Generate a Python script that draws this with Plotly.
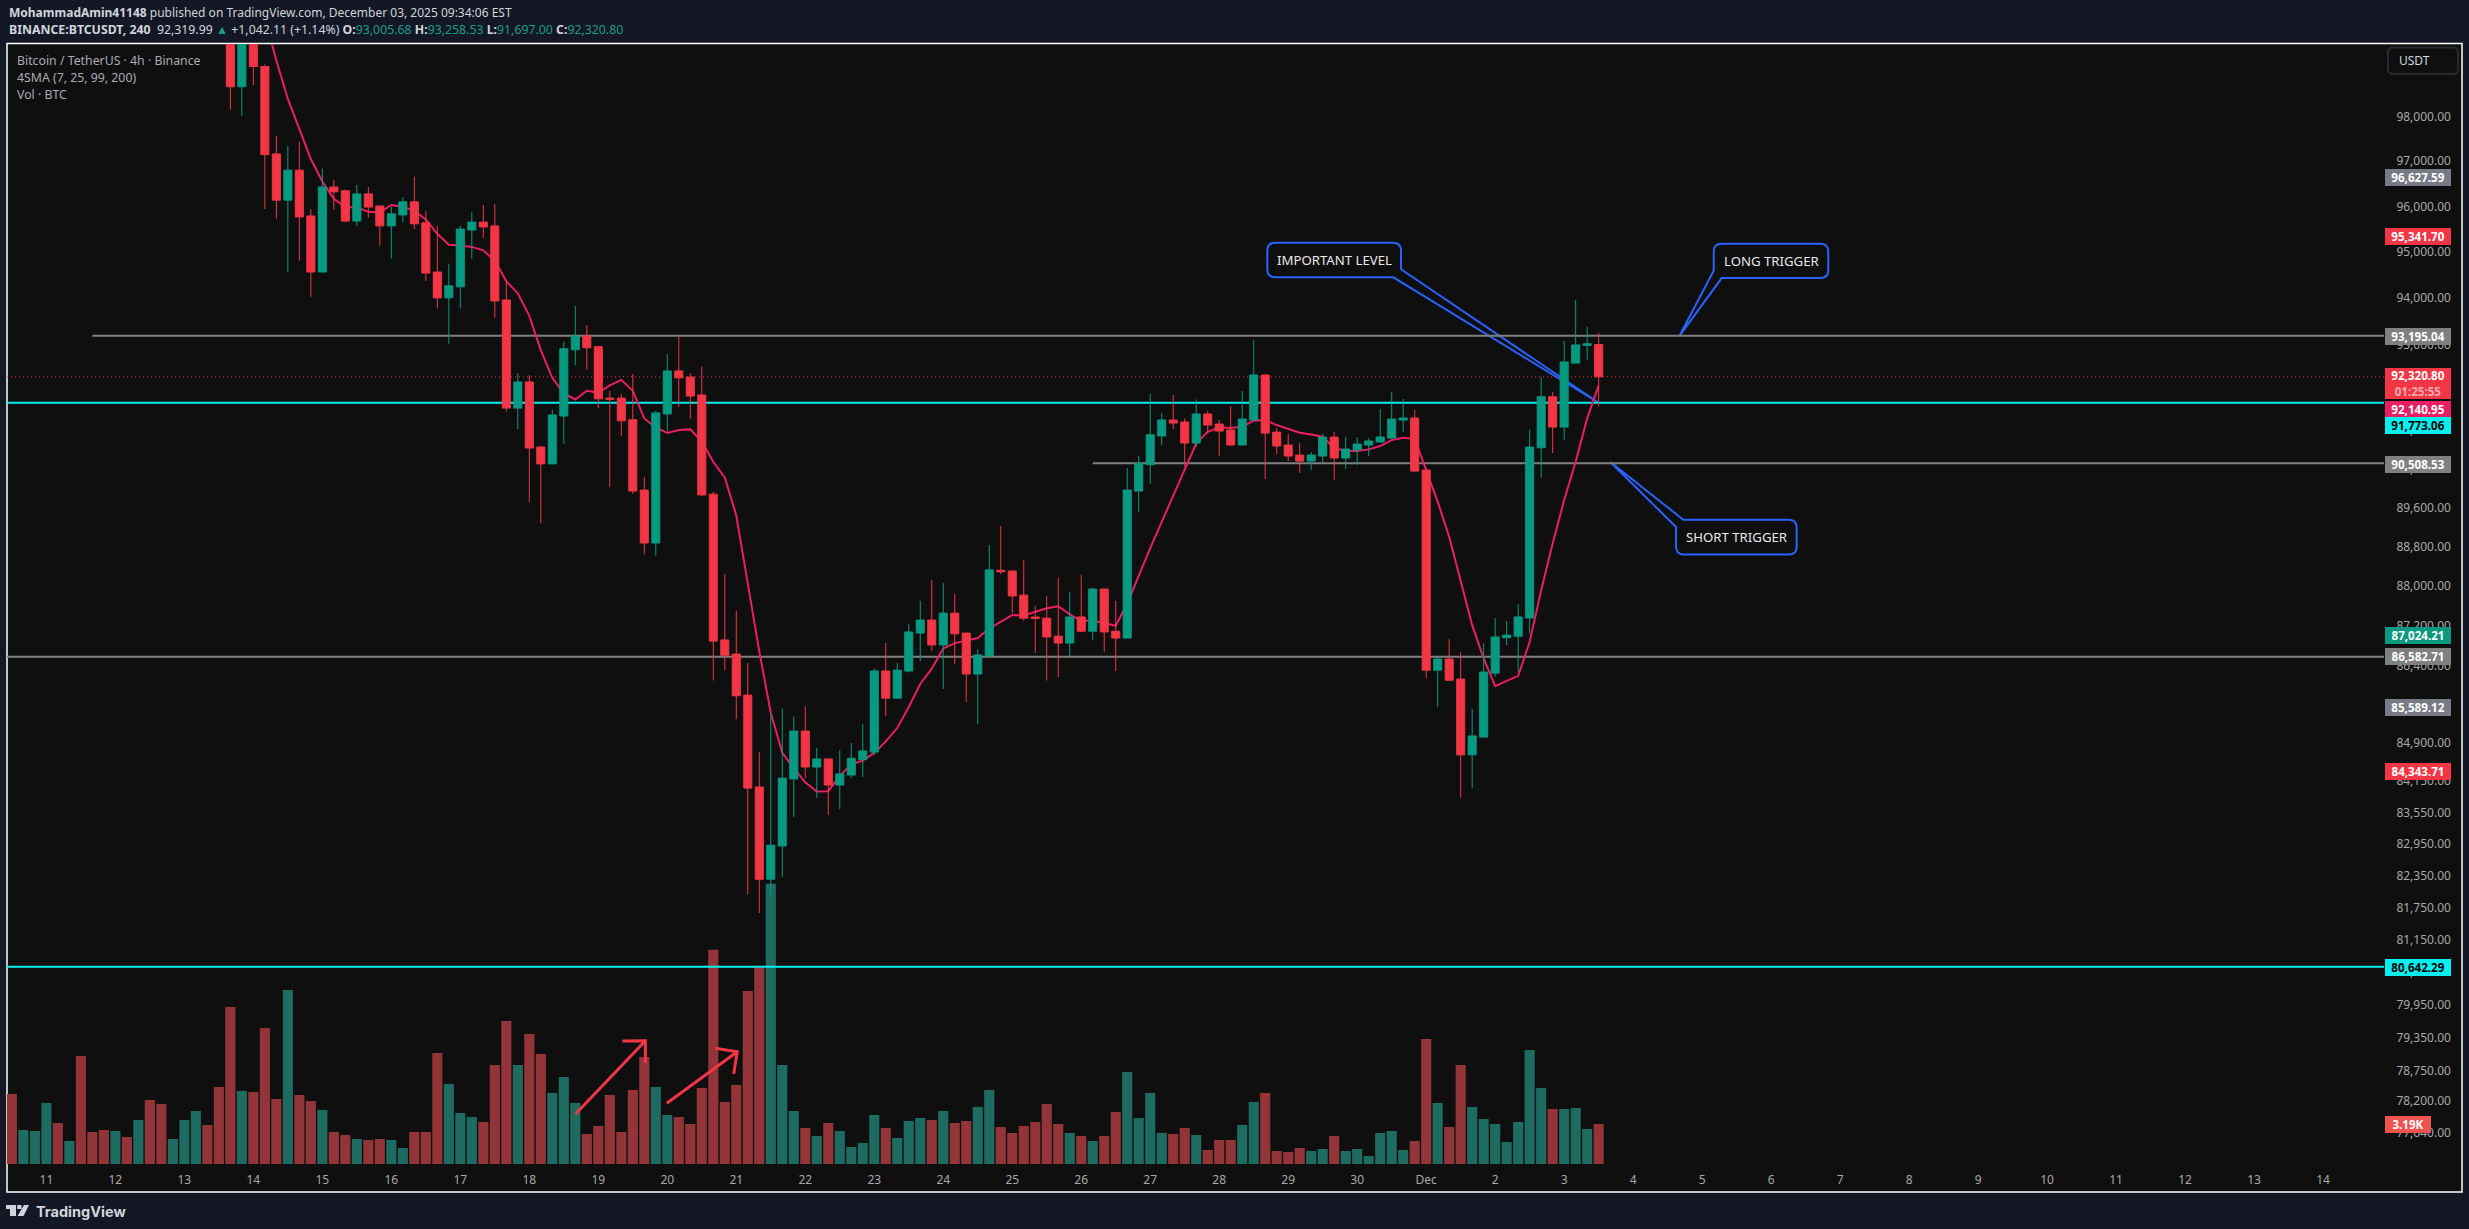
import math
import pandas as pd
import plotly.graph_objects as go

W, H = 2469, 1229

# 4h bars, Nov 10 12:00 -> Dec 3 12:00
bar_times = pd.date_range("2025-11-10 12:00", periods=139, freq="4h")

volume = [5586, 2713, 2633, 4868, 3272, 1835, 8618, 2554, 2713, 2633, 2155, 3511, 5107, 4788, 1995, 3511,
          4229, 3112, 6145, 12529, 5825, 5746, 10853, 5187, 13885, 5506, 5027, 4309, 2554, 2314, 1995, 1915,
          1995, 1915, 1277, 2554, 2554, 8858, 6384, 4070, 3751, 3352, 7900, 11411, 7900, 10374, 8778, 5666,
          6943, 4868, 2394, 3032, 5506, 2554, 5905, 8539, 6145, 3910, 3751, 3192, 6065, 17077, 4948, 6304,
          13805, 15694, 22344, 7900, 4229, 2873, 2234, 3272, 2633, 1357, 1676, 3910, 2873, 2075, 3431, 3671,
          3511, 4229, 3272, 3431, 4549, 5905, 2953, 2474, 3032, 3352, 4788, 3192, 2474, 2234, 1835, 2234,
          4150, 7342, 3671, 5666, 2474, 2394, 2873, 2314, 1117, 1915, 1915, 3112, 4948, 5666, 1037, 958,
          1277, 1037, 1197, 2234, 1037, 1197, 638, 2474, 2633, 1117, 1835, 9975, 4868, 2953, 7900, 4549,
          3591, 3192, 1756, 3352, 9097, 6065, 4389, 4389, 4469, 2793, 3190]
vol_dir = ("RGGGRGRRRG" "RGRRGGGRRR" "GRRRGRRGRR" "GRRGGRRRGG" "GRRRGRRGGG" "RRRRRRGGRR" "RRRRRRGGGR"
           "GRGGGGRGGG" "RGRRGGRRRR" "RRGRGRRGGG" "GRRGRRRGGR" "RRRGGRGGGG" "GGRRGRRGGG" "GGGGRGGGR")

# candles only from the first one that enters the pane (Nov 13 16:00)
candle_times = bar_times[19:]
opens = [100400, 98668, 100300, 99128, 97161, 96137, 96800, 95789, 94566, 96427, 96343, 95676, 96274, 96008,
         95571, 95812, 96099, 95639, 94566, 94007, 94246, 95480, 95654, 95571, 93962, 91661, 92213, 90848,
         90497, 91496, 92894, 93188, 92960, 91872, 91872, 91417, 89955, 88870, 91539, 92446, 92315, 91937,
         89871, 86917, 86636, 85826, 84037, 82278, 82908, 84192, 85121, 84422, 84578, 84074, 84267, 84570,
         84711, 86301, 85765, 86301, 87054, 87315, 86817, 87453, 87054, 86241, 86598, 88316, 88301, 87814,
         87376, 87353, 86993, 86855, 87376, 87092, 87938, 87092, 86955, 89934, 90481, 91078, 91411, 91369,
         90930, 91537, 91327, 91201, 90889, 91411, 92359, 91159, 90889, 90680, 90555, 90659, 91055, 90618,
         90784, 90889, 90951, 91034, 91411, 91453, 90369, 86316, 86537, 86141, 84658, 85003, 86258, 86962,
         86992, 87355, 90831, 91900, 91263, 92612, 92990, 93005.68]
highs = [100700, 100800, 100500, 99175, 97560, 97337, 97429, 95940, 96839, 96587, 96366, 96472, 96427, 96008,
         95985, 96205, 96648, 95895, 95571, 94745, 95571, 95880, 96031, 96053, 94364, 92402, 92358, 90860,
         91625, 93063, 93836, 93423, 92982, 92025, 91959, 92380, 90224, 91604, 92806, 93180, 92402, 92541,
         89918, 88239, 87499, 86461, 84711, 85479, 85562, 85404, 85606, 84793, 84578, 84748, 84890, 85254,
         86347, 86855, 86461, 87238, 87699, 88124, 88062, 87838, 87054, 86734, 88829, 89219, 88301, 88525,
         87599, 87799, 88162, 87876, 88224, 87961, 87938, 87699, 90408, 90663, 91962, 91558, 91936, 91446,
         91845, 91600, 91411, 91705, 92020, 93104, 92380, 91243, 91117, 90930, 90742, 91117, 91159, 91055,
         91055, 91034, 91642, 91999, 91852, 91621, 90410, 86574, 86933, 86676, 85551, 86852, 87355, 87295,
         87636, 91205, 92314, 92002, 93084, 93965, 93384, 93258.53]
lows = [98147, 98008, 98707, 95940, 95729, 94566, 94813, 94029, 94566, 95925, 95654, 95571, 95752, 95135,
        94858, 95654, 95503, 94372, 93777, 93019, 93777, 94850, 95307, 93578, 91589, 91222, 89708, 89271,
        90497, 90913, 92571, 92468, 91661, 90020, 91078, 89878, 88640, 88610, 91179, 91683, 91431, 89834,
        86112, 86317, 85352, 81997, 81643, 81953, 82321, 83456, 84207, 83823, 83501, 83610, 84215, 84230,
        84659, 85412, 85765, 86271, 86498, 86703, 85946, 86438, 85690, 85254, 86598, 88239, 87453, 87300,
        86661, 86112, 86180, 86567, 87069, 86917, 86680, 86301, 86955, 89510, 90083, 90886, 91222, 90438,
        90853, 91131, 90659, 90868, 90889, 91411, 90183, 90701, 90555, 90307, 90369, 90527, 90162, 90390,
        90473, 90659, 90951, 91014, 91159, 90328, 86159, 85587, 86119, 83828, 84014, 85003, 86185, 86816,
        86280, 87051, 90209, 90723, 90994, 92612, 92683, 91697.00]
closes = [98668, 100300, 99128, 97145, 96137, 96800, 95767, 94566, 96427, 96320, 95676, 96274, 95985, 95571,
          95835, 96099, 95616, 94543, 94007, 94268, 95503, 95654, 95548, 93940, 91661, 92213, 90827, 90497,
          91517, 92916, 93188, 92938, 91857, 91850, 91395, 89934, 88870, 91561, 92446, 92300, 91915, 89855,
          86894, 86613, 85811, 84015, 82278, 82923, 84207, 85121, 84422, 84578, 84074, 84289, 84592, 84733,
          86301, 85765, 86317, 87077, 87315, 86817, 87453, 87039, 86241, 86620, 88324, 88286, 87799, 87353,
          87346, 86978, 86855, 87376, 87092, 87938, 87077, 86955, 89957, 90504, 91102, 91414, 91348, 90930,
          91537, 91306, 91180, 90889, 91432, 92359, 91138, 90868, 90659, 90555, 90680, 91055, 90618, 90805,
          90909, 90972, 91055, 91432, 91453, 90348, 86317, 86537, 86119, 84658, 85025, 86280, 86977, 87014,
          87377, 90846, 91900, 91263, 92636, 92998, 93022, 92320.80]

# SMA 7, from the bar where it comes into view
sma_times = bar_times[22:]
sma = [100235, 99269, 98393, 97698, 97046, 96549, 96167, 95978, 95978, 95880, 95865, 96031, 95993, 95902, 95714,
       95397, 95157, 95142, 95112, 95037, 94813, 94364, 94104, 93619, 92887, 92300, 91972, 91843, 92025, 91988,
       92140, 92257, 92025, 91445, 91251, 91143, 91201, 91215, 90963, 90540, 90218, 89431, 88069, 86689, 85479,
       84696, 84400, 84126, 83949, 83956, 84252, 84474, 84548, 84696, 84920, 85180, 85592, 86044, 86347, 86749,
       86855, 86901, 86955, 87146, 87284, 87414, 87407, 87476, 87552, 87591, 87430, 87300, 87300, 87254, 87200,
       87645, 88223, 88767, 89300, 89830, 90369, 90925, 91166, 91257, 91243, 91271, 91397, 91411, 91306, 91222,
       91145, 91110, 91062, 90820, 90771, 90764, 90798, 90868, 90992, 91041, 91014, 90369, 89716, 88998, 88118,
       87213, 86549, 86002, 86106, 86205, 86882, 87915, 88862, 89750, 90541, 91446, 92140.95]

price_ticks = [98000, 97000, 96000, 95000, 94000, 93000, 92000, 91200, 90400, 89600, 88800, 88000, 87200, 86400,
               84900, 84150, 83550, 82950, 82350, 81750, 81150, 80550, 79950, 79350, 78750, 78200, 77640]
price_tick_labels = [f"{p:,.2f}" for p in price_ticks]

day_ticks = pd.date_range("2025-11-11", "2025-12-14", freq="D")
day_labels = [str(d.day) if d.day != 1 else "Dec" for d in day_ticks]

# price, box colour, text colour, shift off the true level (px, price scale collisions)
price_boxes = [
    (96627.59, "#787B86", "#ffffff", 0),
    (95341.70, "#F23645", "#ffffff", 0),
    (93195.04, "#808080", "#ffffff", -1),
    (92140.95, "#E91E63", "#ffffff", -24),
    (91773.06, "#00F0F0", "#000000", -22.5),
    (90508.53, "#808080", "#ffffff", -1),
    (87024.21, "#089981", "#ffffff", -1),
    (86582.71, "#808080", "#ffffff", 0),
    (85589.12, "#787B86", "#ffffff", 0),
    (84343.71, "#F23645", "#ffffff", 0),
    (80642.29, "#00F0F0", "#000000", -1),
]

PAGE = "#131824"
PANE = "#0F0F0F"
UP = "#089981"
DOWN = "#F23645"
VOL_UP = "#1E6B61"
VOL_DOWN = "#933538"
BLUE = "#2962FF"
TXT_FONT = "Noto Sans"
X_END = "2025-12-14 21:12"
X_START = "2025-11-10 10:18"


def fx(x):
    return x / W


def fy(y):
    return 1 - y / H


def pth(points):
    return "M" + " L".join(f"{fx(x):.5f},{fy(y):.5f}" for x, y in points)


def callout(x0, y0, x1, y1, corner, tip, pa, pb, r=8):
    # rounded box, one corner is swapped for the pointer
    def q(cx, cy, ex, ey):
        return f" Q{fx(cx):.5f},{fy(cy):.5f} {fx(ex):.5f},{fy(ey):.5f}"

    def l(x, y):
        return f" L{fx(x):.5f},{fy(y):.5f}"

    ptr = l(*pa) + l(*tip) + l(*pb)
    s = f"M{fx(x0 + r if corner != 'tl' else pb[0]):.5f},{fy(y0):.5f}"
    s += l(x1 - r, y0) + q(x1, y0, x1, y0 + r)
    s += ptr if corner == "br" else l(x1, y1 - r) + q(x1, y1, x1 - r, y1)
    s += ptr if corner == "bl" else l(x0 + r, y1) + q(x0, y1, x0, y1 - r)
    s += ptr if corner == "tl" else l(x0, y0 + r) + q(x0, y0, x0 + r, y0)
    return dict(type="path", xref="paper", yref="paper", path=s, layer="below",
                line=dict(color=BLUE, width=2), fillcolor="rgba(0,0,0,0)")


fig = go.Figure()

fig.add_trace(go.Bar(x=bar_times, y=volume, yaxis="y",
                     marker=dict(color=[VOL_UP if d == "G" else VOL_DOWN for d in vol_dir], line_width=0)))

hlines = [("2025-11-11 16:00", 93195.04, "#808080"),
          ("2025-11-26 04:00", 90508.53, "#808080"),
          (X_START, 86582.71, "#808080"),
          (X_START, 91773.06, "#00F0F0"),
          (X_START, 80642.29, "#00F0F0")]
for start, level, col in hlines:
    fig.add_trace(go.Scatter(x=[start, X_END], y=[level, level], yaxis="y2", mode="lines",
                             line=dict(color=col, width=2)))
fig.add_trace(go.Scatter(x=[X_START, X_END], y=[92320.80, 92320.80], yaxis="y2", mode="lines",
                         line=dict(color=DOWN, width=1, dash="1px,3px")))
fig.add_trace(go.Scatter(x=sma_times, y=sma, yaxis="y2", mode="lines", line=dict(color="#E91E63", width=2)))

fig.add_trace(go.Candlestick(x=candle_times, open=opens, high=highs, low=lows, close=closes, yaxis="y3",
                             whiskerwidth=0,
                             increasing=dict(line=dict(color=UP, width=1), fillcolor=UP),
                             decreasing=dict(line=dict(color=DOWN, width=1), fillcolor=DOWN)))

pmin, pmax = math.log10(77079), math.log10(99640)
ydom = [fy(1164), fy(44)]
common = dict(domain=ydom, showgrid=False, zeroline=False, showline=False)

shapes = [
    dict(type="rect", xref="paper", yref="paper", x0=fx(7), x1=fx(2462), y0=fy(1192), y1=fy(43.5), layer="below",
         fillcolor=PANE, line=dict(color="#FFFFFF", width=1.5)),
    # USDT button
    dict(type="path", xref="paper", yref="paper", layer="above", fillcolor=PANE, line=dict(color="#2A2A2A", width=2),
         path=pth([(2391, 47.5), (2455, 47.5), (2458, 50.5), (2458, 71), (2455, 74), (2391, 74), (2388, 71),
                   (2388, 50.5)]) + " Z"),
    callout(1713.7, 243.7, 1828.3, 278.1, "bl", (1679.3, 336.2), (1721.7, 278.1), (1713.7, 270.7)),
    callout(1267.3, 242.7, 1401, 277.3, "br", (1599, 403), (1401, 269.3), (1393.3, 277.3)),
    callout(1676, 519.7, 1796.7, 554.5, "tl", (1610.3, 462), (1676, 527), (1683.3, 519.7)),
]
# hand drawn arrows in the volume pane
for stroke in ([(575.5, 1114), (645.4, 1040.7)], [(622.4, 1041), (645.4, 1040.7), (645.4, 1062.7)],
               [(666.8, 1103.3), (737.2, 1051.7)], [(715.3, 1048.3), (737.2, 1051.7), (733.7, 1074)]):
    shapes.append(dict(type="path", xref="paper", yref="paper", layer="above", path=pth(stroke),
                       line=dict(color=DOWN, width=3), fillcolor="rgba(0,0,0,0)"))
# logo
logo = [
    [(6, 1205), (16, 1205), (16, 1216), (10, 1216), (10, 1209), (6, 1209)],
    [(24, 1205), (29, 1205), (23.5, 1216), (17.5, 1216)],
    [(17.2, 1205), (21.5, 1205), (21.5, 1209), (17.2, 1209)],
]
for part in logo:
    shapes.append(dict(type="path", xref="paper", yref="paper", path=pth(part) + " Z", fillcolor="#D1D4DC",
                       line_width=0))


def text(x, y, s, size=13, color="#D1D4DC", anchor="left", font=TXT_FONT):
    return dict(xref="paper", yref="paper", x=fx(x), y=fy(y), text=s, showarrow=False, xanchor=anchor,
                yanchor="middle", align=anchor, font=dict(family=font, size=size, color=color))


G = "#1C9C8C"
annotations = [
    text(6.5, 12.5, "<b>MohammadAmin41148</b> published on TradingView.com, December 03, 2025 09:34:06 EST", size=12),
    text(6.5, 29.7, f"<b>BINANCE:BTCUSDT, 240</b>  92,319.99 <span style='color:{G}'>▲</span> +1,042.11 (+1.14%) "
                    f"<b>O:</b><span style='color:{G}'>93,005.68</span> <b>H:</b><span style='color:{G}'>93,258.53</span> "
                    f"<b>L:</b><span style='color:{G}'>91,697.00</span> <b>C:</b><span style='color:{G}'>92,320.80</span>",
         size=12.3),
    text(15, 60.7, "Bitcoin / TetherUS · 4h · Binance", size=12.3, color="#A8ABB4"),
    text(15, 77.7, "4SMA (7, 25, 99, 200)", size=12.3, color="#A8ABB4"),
    text(15, 94.7, "Vol · BTC", size=12.3, color="#A8ABB4"),
    text(2397, 61, "USDT", size=12, color="#D1D4DC"),
    text(1771, 260.5, "LONG TRIGGER", size=13.2, color="#E8E8E8", anchor="center"),
    text(1334, 259.5, "IMPORTANT LEVEL", size=13.2, color="#E8E8E8", anchor="center"),
    text(1736, 536.5, "SHORT TRIGGER", size=13.2, color="#E8E8E8", anchor="center"),
    text(34, 1211, "<b>TradingView</b>", size=14.5, color="#D1D4DC", font="Inter"),
]
for level, bg, fg, shift in price_boxes:
    annotations.append(dict(xref="paper", yref="y2", x=fx(2385), y=math.log10(level), yshift=shift, xanchor="left",
                            yanchor="middle", text=f"<b>{level:,.2f}</b>", showarrow=False, bgcolor=bg, width=66,
                            height=17, align="center", borderpad=0, borderwidth=0,
                            font=dict(family=TXT_FONT, size=11.6, color=fg)))
annotations.append(dict(xref="paper", yref="y2", x=fx(2385), y=math.log10(92320.80), yshift=-7, xanchor="left",
                        yanchor="middle", showarrow=False, bgcolor="#F23645", width=66, height=31, align="center",
                        borderpad=0, borderwidth=0, font=dict(family=TXT_FONT, size=11.6, color="#FFFFFF"),
                        text="<b>92,320.80</b><br><b><span style='color:#F9A9B0'>01:25:55</span></b>"))
annotations.append(dict(xref="paper", yref="y", x=fx(2385), y=3190, xanchor="left", yanchor="middle",
                        text="<b>3.19K</b>", showarrow=False, bgcolor="#EF5350", width=46, height=17, align="center",
                        borderpad=0, borderwidth=0, font=dict(family=TXT_FONT, size=11.6, color="#FFFFFF")))

fig.update_layout(
    width=W, height=H, autosize=False, margin=dict(l=0, r=0, t=0, b=0),
    paper_bgcolor=PAGE, plot_bgcolor="rgba(0,0,0,0)", showlegend=False, bargap=0.12,
    boxgap=0.3, boxgroupgap=0,
    xaxis=dict(domain=[fx(7), fx(2384)], type="date", range=[X_START, X_END], rangeslider=dict(visible=False),
               tickmode="array", tickvals=list(day_ticks), ticktext=day_labels, showgrid=False, zeroline=False,
               showline=False, ticks="outside", ticklen=5, tickcolor=PANE,
               tickfont=dict(family=TXT_FONT, size=12, color="#A8A8A8")),
    yaxis=dict(range=[0, 89320], visible=False, **common),
    yaxis2=dict(type="log", range=[pmin, pmax], overlaying="y", side="right", anchor="x", tickmode="array",
                tickvals=price_ticks, ticktext=price_tick_labels, ticks="outside", ticklen=9, tickcolor=PANE,
                tickfont=dict(family=TXT_FONT, size=12, color="#A8A8A8"), **common),
    yaxis3=dict(type="log", range=[pmin, pmax], overlaying="y", side="right", anchor="x", visible=False, **common),
    shapes=shapes, annotations=annotations,
)

fig.write_html("out.html", config=dict(displayModeBar=False),
               post_script="document.body.style.margin='0';document.body.style.overflow='hidden';")
